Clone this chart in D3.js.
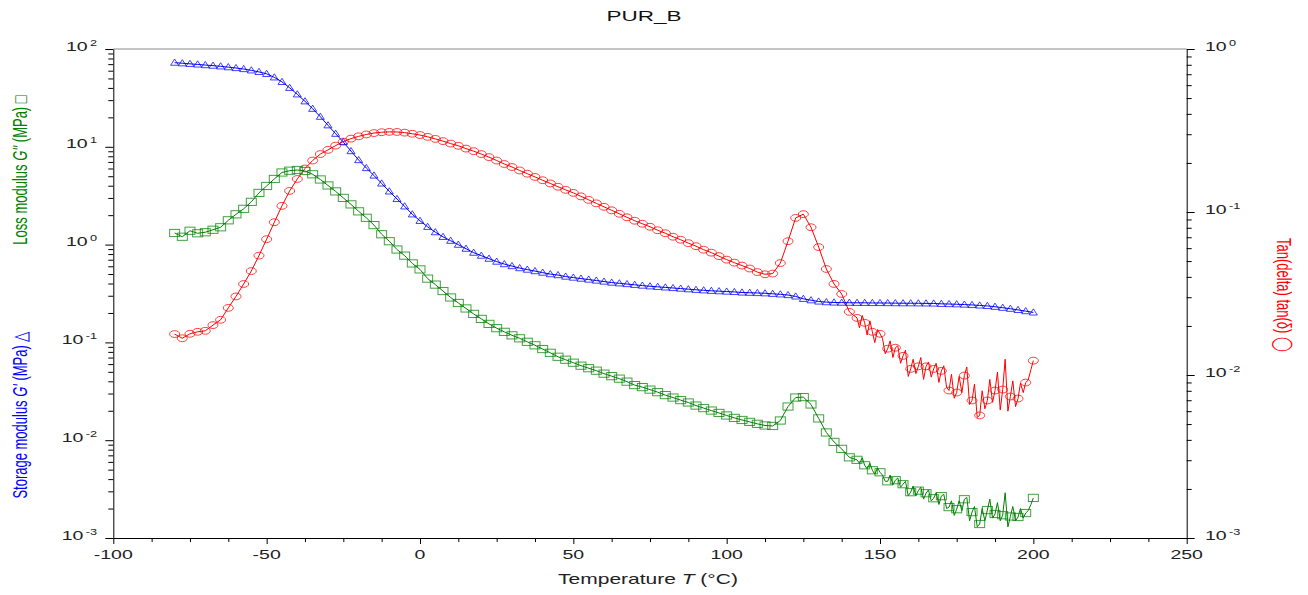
<!DOCTYPE html>
<html>
<head>
<meta charset="utf-8">
<script src="https://cdn.jsdelivr.net/npm/d3@7"></script>
<style>
  body { margin: 0; background: #fff; }
  text { font-family: 'Liberation Sans', Arial, sans-serif; }
</style>
</head>
<body>
<svg id="chart" width="1308" height="595"></svg>
<script>
// Temperature grid of the marked points (°C)
const tempC = [
  -80, -77.5, -75, -72.5, -70, -67.5, -65, -62.5, -60, -57.5,
  -55, -52.5, -50, -47.5, -45, -42.5, -40, -37.5, -35, -32.5,
  -30, -27.5, -25, -22.5, -20, -17.5, -15, -12.5, -10, -7.5,
  -5, -2.5, 0, 2.5, 5, 7.5, 10, 12.5, 15, 17.5,
  20, 22.5, 25, 27.5, 30, 32.5, 35, 37.5, 40, 42.5,
  45, 47.5, 50, 52.5, 55, 57.5, 60, 62.5, 65, 67.5,
  70, 72.5, 75, 77.5, 80, 82.5, 85, 87.5, 90, 92.5,
  95, 97.5, 100, 102.5, 105, 107.5, 110, 112.5, 115, 117.5,
  120, 122.5, 125, 127.5, 130, 132.5, 135, 137.5, 140, 142.5,
  145, 147.5, 150, 152.5, 155, 157.5, 160, 162.5, 165, 167.5,
  170, 172.5, 175, 177.5, 180, 182.5, 185, 187.5, 190, 192.5,
  195, 197.5, 200
];

// Storage modulus G' (MPa)
const storageMod = [
  72.5, 71.5, 70.5, 69.5, 68.5, 67.6, 66.5, 65.2, 63.9, 62.4,
  60.5, 58.3, 55.7, 51.3, 46.1, 40.1, 34.4, 29.2, 24.5, 20.3,
  16.6, 13.6, 11.2, 9.04, 7.32, 6.07, 5.09, 4.22, 3.50, 2.93,
  2.46, 2.04, 1.75, 1.52, 1.34, 1.20, 1.096, 0.998, 0.908, 0.827,
  0.771, 0.718, 0.670, 0.632, 0.603, 0.575, 0.555, 0.536, 0.517, 0.499,
  0.488, 0.471, 0.460, 0.449, 0.439, 0.429, 0.419, 0.409, 0.402, 0.395,
  0.388, 0.381, 0.375, 0.370, 0.365, 0.360, 0.355, 0.350, 0.345, 0.341,
  0.337, 0.334, 0.331, 0.328, 0.324, 0.322, 0.320, 0.318, 0.314, 0.310,
  0.305, 0.295, 0.279, 0.270, 0.262, 0.258, 0.256, 0.255, 0.2545, 0.254,
  0.254, 0.253, 0.253, 0.2526, 0.252, 0.2515, 0.2515, 0.251, 0.2505, 0.250,
  0.248, 0.2467, 0.2455, 0.2438, 0.2415, 0.2387, 0.236, 0.2315, 0.2262, 0.221,
  0.2148, 0.2088, 0.2025
];

// Loss modulus G'' (MPa)
const lossMod = [
  1.315, 1.203, 1.385, 1.306, 1.338, 1.418, 1.504, 1.772, 2.040, 2.321,
  2.735, 3.377, 3.979, 4.690, 5.462, 5.697, 5.791, 5.657, 5.236, 4.634,
  4.026, 3.498, 3.003, 2.579, 2.188, 1.879, 1.583, 1.276, 1.083, 0.891,
  0.771, 0.642, 0.558, 0.449, 0.390, 0.335, 0.288, 0.253, 0.2224, 0.1956,
  0.1739, 0.1546, 0.1398, 0.1282, 0.1181, 0.1101, 0.1014, 0.0934, 0.0855, 0.0783,
  0.0713, 0.0665, 0.0620, 0.0578, 0.0545, 0.0514, 0.0479, 0.0452, 0.0426, 0.0397,
  0.0366, 0.0349, 0.0329, 0.0310, 0.0289, 0.0273, 0.0257, 0.0243, 0.0226, 0.0213,
  0.0201, 0.0190, 0.0179, 0.0169, 0.0161, 0.0154, 0.0147, 0.01415, 0.01398, 0.0159,
  0.0221, 0.0273, 0.0276, 0.0232, 0.0167, 0.0120, 0.00961, 0.00815, 0.00668, 0.00630,
  0.00554, 0.00493, 0.00470, 0.00380, 0.00390, 0.00355, 0.00294, 0.00305, 0.00287, 0.00255,
  0.00268, 0.00207, 0.00197, 0.00249, 0.00184, 0.00139, 0.00193, 0.00176, 0.00171, 0.00166,
  0.00164, 0.00180, 0.00257
];

// tan(delta)
const tanDelta = [
  0.01783, 0.01680, 0.01790, 0.01841, 0.01867, 0.02023, 0.02181, 0.02581, 0.03034, 0.03617,
  0.04342, 0.05400, 0.06811, 0.08654, 0.1091, 0.1347, 0.1595, 0.1849, 0.2069, 0.2267,
  0.2405, 0.2555, 0.2703, 0.2819, 0.2912, 0.2991, 0.3050, 0.3085, 0.3102, 0.3098,
  0.3068, 0.3020, 0.2966, 0.2892, 0.2808, 0.2722, 0.2628, 0.2548, 0.2449, 0.2361,
  0.2267, 0.2171, 0.2069, 0.1970, 0.1888, 0.1798, 0.1718, 0.1641, 0.1566, 0.1497,
  0.1429, 0.1367, 0.1310, 0.1247, 0.1187, 0.1130, 0.1076, 0.1024, 0.0975, 0.0928,
  0.0884, 0.0847, 0.0812, 0.0773, 0.0741, 0.0705, 0.0676, 0.0644, 0.0617, 0.0587,
  0.0563, 0.0536, 0.0510, 0.0489, 0.0469, 0.0450, 0.0428, 0.0415, 0.0419, 0.0486,
  0.0662, 0.0920, 0.0970, 0.0806, 0.0609, 0.0447, 0.0362, 0.0314, 0.0244, 0.0224,
  0.0209, 0.0184, 0.0179, 0.0145, 0.0147, 0.0131, 0.0109, 0.0113, 0.0113, 0.0109,
  0.0106, 0.00803, 0.00781, 0.00992, 0.00698, 0.00565, 0.00698, 0.00803, 0.00814, 0.00738,
  0.00717, 0.00899, 0.01225
];

// Unmarked readings between the markers in the noisy high-temperature range
const noiseT = [
  143.3, 144.2, 145.8, 146.7, 148.3, 149.2, 150.8, 151.7, 153.3, 154.2,
  155.8, 156.7, 158.3, 159.2, 160.8, 161.7, 163.3, 164.2, 165.8, 166.7,
  168.3, 169.2, 170.8, 171.7, 173.3, 174.2, 175.8, 176.7, 178.3, 179.2,
  180.8, 181.7, 183.3, 184.2, 185.8, 186.7, 188.3, 189.2, 190.8, 191.7,
  193.3, 194.2, 195.8, 196.7, 198.3, 199.2
];
const tanNoise = [
  0.0195, 0.0232, 0.0176, 0.0215, 0.0158, 0.0190, 0.0168, 0.0135, 0.0162, 0.0128,
  0.0151, 0.0118, 0.0142, 0.0098, 0.0125, 0.0102, 0.0128, 0.0094, 0.0120, 0.0097,
  0.0118, 0.0090, 0.0114, 0.0084, 0.0101, 0.0072, 0.0098, 0.0078, 0.0112, 0.0066,
  0.0088, 0.0055, 0.0080, 0.0062, 0.0094, 0.0068, 0.0104, 0.0061, 0.0125, 0.0060,
  0.0092, 0.0064, 0.0089, 0.0078, 0.0093, 0.0108
];
const lossNoise = [
  0.0058, 0.0066, 0.0051, 0.0058, 0.0045, 0.0052, 0.0044, 0.0038, 0.0044, 0.0035,
  0.0041, 0.0033, 0.0038, 0.0027, 0.0034, 0.0027, 0.0033, 0.0025, 0.0031, 0.0024,
  0.0029, 0.0022, 0.0028, 0.0020, 0.0024, 0.0017, 0.0024, 0.0019, 0.0026, 0.0015,
  0.0021, 0.0013, 0.0020, 0.0015, 0.0025, 0.0016, 0.0023, 0.0015, 0.0029, 0.0013,
  0.0021, 0.0015, 0.0020, 0.0016, 0.0019, 0.0022
];

const xTicks = [-100, -50, 0, 50, 100, 150, 200, 250];
const modTicks = [-3, -2, -1, 0, 1, 2];   // decade exponents, left axis
const tanTicks = [-3, -2, -1, 0];         // decade exponents, right axis

// The original picture was stretched sideways, so text is widened too
const STRETCH = 1.5;
const BLUE = '#0000ff';
const GREEN = '#008000';
const RED = '#ff0000';

const svg = d3.select('#chart');

const x = d3.scaleLinear().domain([-100, 250]).range([113.3, 1186.7]);
const yMod = d3.scaleLog().domain([1e-3, 1e2]).range([538, 49]);
const yTan = d3.scaleLog().domain([1e-3, 1]).range([538, 49]);

const minorDecades = (exps) => exps.slice(0, -1)
  .flatMap(e => [2, 3, 4, 5, 6, 7, 8, 9].map(m => m * Math.pow(10, e)));

// top frame line
svg.append('line')
  .attr('x1', x(-100)).attr('x2', x(250))
  .attr('y1', yMod(1e2)).attr('y2', yMod(1e2))
  .attr('stroke', '#8a8a8a').attr('stroke-width', 1);

// Axes: a major pass and a minor pass for each
function drawAxis (axisFn, scale, transform, major, minor, majorLen, minorLen) {
  svg.append('g')
    .attr('transform', transform)
    .call(axisFn(scale).tickValues(minor).tickSize(minorLen).tickSizeOuter(0).tickFormat(''))
    .call(g => g.select('.domain').remove());
  svg.append('g')
    .attr('transform', transform)
    .call(axisFn(scale).tickValues(major).tickSize(majorLen).tickSizeOuter(0).tickFormat(''));
}

drawAxis(d3.axisBottom, x, `translate(0,${yMod(1e-3)})`,
  xTicks, d3.range(-87.5, 250, 12.5).filter(v => v % 50 !== 0), 6, 4);
drawAxis(d3.axisLeft, yMod, `translate(${x(-100)},0)`,
  modTicks.map(e => Math.pow(10, e)), minorDecades(modTicks), 8, 5);
drawAxis(d3.axisRight, yTan, `translate(${x(250)},0)`,
  tanTicks.map(e => Math.pow(10, e)), minorDecades(tanTicks), 8, 5);

svg.selectAll('.domain, .tick line').attr('stroke', '#000');

function stretchedText (px, py, anchor, size, rotate) {
  return svg.append('text')
    .attr('transform', `translate(${px},${py}) scale(${STRETCH},1)` + (rotate ? ` rotate(${rotate})` : ''))
    .attr('text-anchor', anchor)
    .attr('font-size', size);
}

function powerLabel (px, py, anchor, exp) {
  const t = stretchedText(px, py, anchor, 13).attr('fill', '#222');
  t.append('tspan').text('10');
  t.append('tspan').attr('dx', 1.5).attr('dy', -5).attr('font-size', 8.5).text(exp);
}

modTicks.forEach(e => powerLabel(97, yMod(Math.pow(10, e)) + 1.5, 'end', e));
tanTicks.forEach(e => powerLabel(1205, yTan(Math.pow(10, e)) + 1.5, 'start', e));

xTicks.forEach(v => {
  stretchedText(x(v), 559, 'middle', 13).attr('fill', '#222').text(v);
});

// Titles
stretchedText(644, 21, 'middle', 15).attr('fill', '#111').text('PUR_B');

const xTitle = stretchedText(648, 584, 'middle', 14).attr('fill', '#222');
xTitle.append('tspan').text('Temperature ');
xTitle.append('tspan').attr('font-style', 'italic').text('T');
xTitle.append('tspan').text(' (°C)');

const lossTitle = stretchedText(27, 170, 'middle', 13, -90).attr('fill', GREEN);
lossTitle.append('tspan').text('Loss modulus ');
lossTitle.append('tspan').attr('font-style', 'italic').text("G''");
lossTitle.append('tspan').text(' (MPa) \u25A1');

const storTitle = stretchedText(27, 415, 'middle', 13, -90).attr('fill', BLUE);
storTitle.append('tspan').text('Storage modulus ');
storTitle.append('tspan').attr('font-style', 'italic').text("G'");
storTitle.append('tspan').text(' (MPa) \u25B3');

stretchedText(1277, 295, 'middle', 13, 90).attr('fill', RED)
  .text('Tan(delta) tan(\u03B4) \u25EF');

// Series
const marked = (vals) => tempC.map((t, i) => ({ t, v: vals[i] }));
const withNoise = (vals, noise) => marked(vals)
  .concat(noiseT.map((t, i) => ({ t, v: noise[i] })))
  .sort((a, b) => a.t - b.t);

const series = [
  { pts: marked(tanDelta), line: withNoise(tanDelta, tanNoise), y: yTan, color: RED, shape: 'circle' },
  { pts: marked(lossMod), line: withNoise(lossMod, lossNoise), y: yMod, color: GREEN, shape: 'square' },
  { pts: marked(storageMod), line: marked(storageMod), y: yMod, color: BLUE, shape: 'triangle' }
];

const plot = svg.append('g');

series.forEach(s => {
  const g = plot.append('g');
  g.append('path')
    .datum(s.line)
    .attr('fill', 'none')
    .attr('stroke', s.color)
    .attr('stroke-width', 1)
    .attr('d', d3.line().x(d => x(d.t)).y(d => s.y(d.v)));

  const marks = g.selectAll('.mark')
    .data(s.pts)
    .join('g')
      .attr('class', 'mark')
      .attr('transform', d => `translate(${x(d.t)},${s.y(d.v)})`);

  if (s.shape === 'circle') {
    marks.append('ellipse').attr('rx', 5).attr('ry', 3.4);
  } else if (s.shape === 'square') {
    marks.append('rect').attr('x', -5).attr('y', -3.6).attr('width', 10).attr('height', 7.2);
  } else {
    marks.append('path').attr('d', 'M0,-3.6L4,2.6L-4,2.6Z');
  }
  marks.selectAll('*')
    .attr('fill', 'none')
    .attr('stroke', s.color)
    .attr('stroke-opacity', 0.75)
    .attr('stroke-width', 1);
});
</script>
</body>
</html>
